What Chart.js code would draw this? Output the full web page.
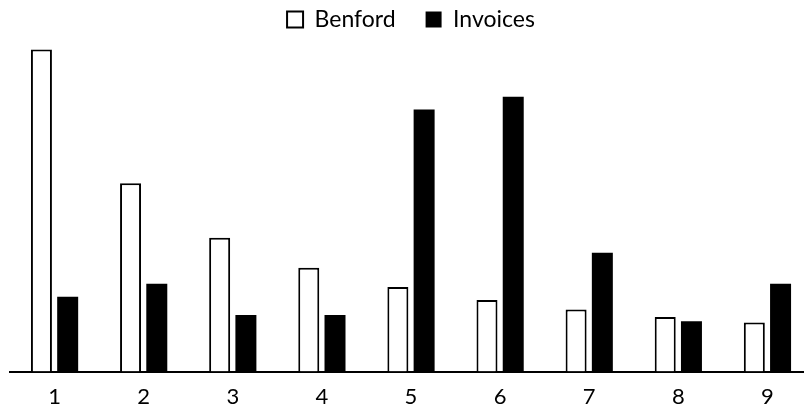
<!DOCTYPE html>
<html>
<head>
<meta charset="utf-8">
<script src="https://cdn.jsdelivr.net/npm/chart.js@4/dist/chart.umd.min.js"></script>
<style>
  html, body { margin: 0; padding: 0; background: #fff; overflow: hidden; }
  #wrap { width: 812px; height: 414px; position: relative; }
</style>
</head>
<body>
<div id="wrap"><canvas id="chart"></canvas></div>
<script>
// first digit frequencies, percent
const digits = ['1', '2', '3', '4', '5', '6', '7', '8', '9'];
const benford = [30.1, 17.6, 12.5, 9.7, 7.9, 6.7, 5.8, 5.1, 4.6];
const invoices = [7.0, 8.2, 5.3, 5.3, 24.5, 25.7, 11.1, 4.7, 8.2];

const fontFamily = 'Lato, "DejaVu Sans", sans-serif';

new Chart('chart', {
  type: 'bar',
  data: {
    labels: digits,
    datasets: [{
        label: 'Benford',
        data: benford,
        backgroundColor: '#ffffff',
        borderColor: '#000000',
        borderWidth: 2,
        borderSkipped: 'start'
      },
      {
        label: 'Invoices',
        data: invoices,
        backgroundColor: '#000000',
        borderColor: '#000000',
        borderWidth: 0
      }
    ]
  },
  options: {
    responsive: true,
    maintainAspectRatio: false,
    animation: false,
    categoryPercentage: 0.589,
    barPercentage: 0.8,
    layout: {
      padding: { left: 10, right: 0, top: -22, bottom: 0 }
    },
    plugins: {
      legend: {
        position: 'top',
        labels: {
          color: '#000',
          boxWidth: 16,
          boxHeight: 16,
          padding: 30,
          font: { family: fontFamily, size: 23 }
        }
      },
      tooltip: { enabled: false }
    },
    scales: {
      x: {
        grid: { display: false },
        border: { display: true, color: '#000', width: 2 },
        ticks: {
          color: '#000',
          padding: 4,
          font: { family: fontFamily, size: 22 }
        }
      },
      y: {
        display: false,
        min: 0,
        max: 30.9
      }
    }
  }
});
</script>
</body>
</html>
